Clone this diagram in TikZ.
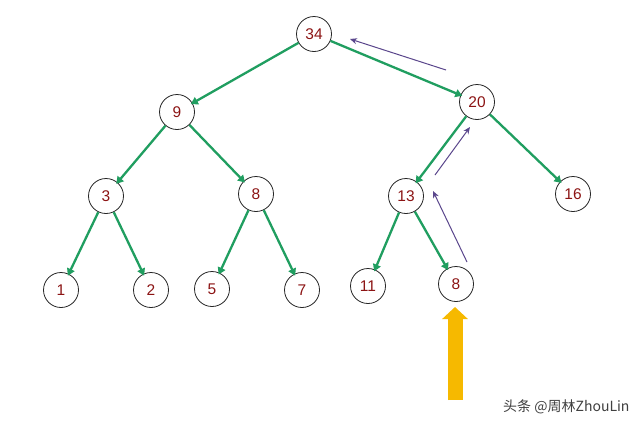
\documentclass[tikz,border=0pt]{standalone}
\usepackage{fontspec}
\setmainfont{Liberation Sans}
\newfontfamily\cjk{Noto Sans CJK SC}
\usetikzlibrary{arrows.meta}
\definecolor{edgegreen}{RGB}{32,158,96}
\definecolor{numred}{RGB}{140,20,20}
\definecolor{pathpurple}{RGB}{90,70,140}
\definecolor{arrowyellow}{RGB}{246,185,0}
\begin{document}
\begin{tikzpicture}[x=1pt,y=-1pt,
  vnode/.style={circle,draw=black!85,line width=0.8pt,minimum size=35pt,inner sep=0pt,fill=white,text=numred,font=\fontsize{15.5}{15.5}\selectfont},
  tedge/.style={draw=edgegreen,line width=2.3pt,-{Triangle[length=7pt,width=8pt]},shorten >=-2pt},
  upath/.style={draw=pathpurple,line width=1pt,-{Stealth[length=7pt,width=6pt]}}]
\useasboundingbox[fill=white] (0,0) rectangle (640,426);
\node[vnode] (n34) at (314,34) {34};
\node[vnode] (n9) at (177,112) {9};
\node[vnode] (n20) at (477,102) {20};
\node[vnode] (n3) at (106,196) {3};
\node[vnode] (n8) at (256,194) {8};
\node[vnode] (n13) at (406,196) {13};
\node[vnode] (n16) at (573,194) {16};
\node[vnode] (n1) at (61,290) {1};
\node[vnode] (n2) at (151,290) {2};
\node[vnode] (n5) at (212,289) {5};
\node[vnode] (n7) at (302,290) {7};
\node[vnode] (n11) at (368,286) {11};
\node[vnode] (n8b) at (456,284) {8};
\draw[tedge] (n34) -- (n9);
\draw[tedge] (n34) -- (n20);
\draw[tedge] (n9) -- (n3);
\draw[tedge] (n9) -- (n8);
\draw[tedge] (n20) -- (n13);
\draw[tedge] (n20) -- (n16);
\draw[tedge] (n3) -- (n1);
\draw[tedge] (n3) -- (n2);
\draw[tedge] (n8) -- (n5);
\draw[tedge] (n8) -- (n7);
\draw[tedge] (n13) -- (n11);
\draw[tedge] (n13) -- (n8b);
\coordinate (p1s) at (467,262);
\coordinate (p1e) at (433,191);
\coordinate (p2s) at (435,175);
\coordinate (p2e) at (470,127);
\coordinate (p3s) at (446,70);
\coordinate (p3e) at (350,39);
\draw[upath] (p1s) -- (p1e);
\draw[upath] (p2s) -- (p2e);
\draw[upath] (p3s) -- (p3e);
\coordinate (ys) at (455,400);
\coordinate (ye) at (455,307);
\draw[arrowyellow,line width=15pt,-{Triangle[length=12pt,width=25pt]}] (ys) -- (ye);
\node[anchor=west,text=black!75,font=\cjk\fontsize{14}{14}\selectfont,inner sep=0pt] (wm) at (503,407) {头条 @周林ZhouLin};
\end{tikzpicture}
\end{document}
